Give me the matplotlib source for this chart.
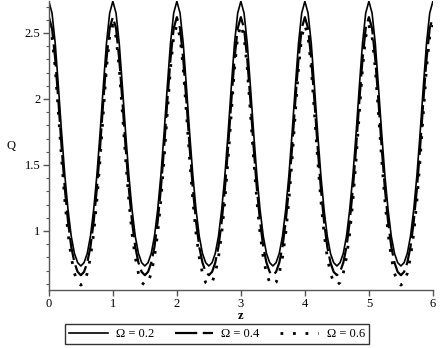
import matplotlib
matplotlib.use('Agg')
import matplotlib.pyplot as plt
from matplotlib.ticker import MultipleLocator
import numpy as np

plt.rcParams['font.family'] = ['Liberation Serif', 'DejaVu Serif']

# z grid (step 0.05 from 0 to 6)
z = np.linspace(0, 6, 121)

q_02 = [
    2.74, 2.65, 2.42, 2.09, 1.74, 1.42, 1.16, 0.96, 0.83, 0.76, 0.735, 0.76, 0.83, 0.96, 1.16, 1.42, 1.74, 2.09, 2.42, 2.65,
    2.74, 2.65, 2.42, 2.09, 1.74, 1.42, 1.16, 0.96, 0.83, 0.76, 0.735, 0.76, 0.83, 0.96, 1.16, 1.42, 1.74, 2.09, 2.42, 2.65,
    2.74, 2.65, 2.42, 2.09, 1.74, 1.42, 1.16, 0.96, 0.83, 0.76, 0.735, 0.76, 0.83, 0.96, 1.16, 1.42, 1.74, 2.09, 2.42, 2.65,
    2.74, 2.65, 2.42, 2.09, 1.74, 1.42, 1.16, 0.96, 0.83, 0.76, 0.735, 0.76, 0.83, 0.96, 1.16, 1.42, 1.74, 2.09, 2.42, 2.65,
    2.74, 2.65, 2.42, 2.09, 1.74, 1.42, 1.16, 0.96, 0.83, 0.76, 0.735, 0.76, 0.83, 0.96, 1.16, 1.42, 1.74, 2.09, 2.42, 2.65,
    2.74, 2.65, 2.42, 2.09, 1.74, 1.42, 1.16, 0.96, 0.83, 0.76, 0.735, 0.76, 0.83, 0.96, 1.16, 1.42, 1.74, 2.09, 2.42, 2.65,
    2.74,
]
q_04 = [
    2.62, 2.535, 2.30, 1.98, 1.63, 1.32, 1.07, 0.88, 0.76, 0.69, 0.665, 0.69, 0.76, 0.88, 1.07, 1.32, 1.63, 1.98, 2.30, 2.535,
    2.62, 2.535, 2.30, 1.98, 1.63, 1.32, 1.07, 0.88, 0.76, 0.69, 0.665, 0.69, 0.76, 0.88, 1.07, 1.32, 1.63, 1.98, 2.30, 2.535,
    2.62, 2.535, 2.30, 1.98, 1.63, 1.32, 1.07, 0.88, 0.76, 0.69, 0.665, 0.69, 0.76, 0.88, 1.07, 1.32, 1.63, 1.98, 2.30, 2.535,
    2.62, 2.535, 2.30, 1.98, 1.63, 1.32, 1.07, 0.88, 0.76, 0.69, 0.665, 0.69, 0.76, 0.88, 1.07, 1.32, 1.63, 1.98, 2.30, 2.535,
    2.62, 2.535, 2.30, 1.98, 1.63, 1.32, 1.07, 0.88, 0.76, 0.69, 0.665, 0.69, 0.76, 0.88, 1.07, 1.32, 1.63, 1.98, 2.30, 2.535,
    2.62, 2.535, 2.30, 1.98, 1.63, 1.32, 1.07, 0.88, 0.76, 0.69, 0.665, 0.69, 0.76, 0.88, 1.07, 1.32, 1.63, 1.98, 2.30, 2.535,
    2.62,
]
q_06 = [
    2.56, 2.47, 2.23, 1.89, 1.54, 1.23, 0.98, 0.80, 0.68, 0.61, 0.59, 0.61, 0.68, 0.80, 0.98, 1.23, 1.54, 1.89, 2.23, 2.47,
    2.56, 2.47, 2.23, 1.89, 1.54, 1.23, 0.98, 0.80, 0.68, 0.61, 0.59, 0.61, 0.68, 0.80, 0.98, 1.23, 1.54, 1.89, 2.23, 2.47,
    2.56, 2.47, 2.23, 1.89, 1.54, 1.23, 0.98, 0.80, 0.68, 0.61, 0.59, 0.61, 0.68, 0.80, 0.98, 1.23, 1.54, 1.89, 2.23, 2.47,
    2.56, 2.47, 2.23, 1.89, 1.54, 1.23, 0.98, 0.80, 0.68, 0.61, 0.59, 0.61, 0.68, 0.80, 0.98, 1.23, 1.54, 1.89, 2.23, 2.47,
    2.56, 2.47, 2.23, 1.89, 1.54, 1.23, 0.98, 0.80, 0.68, 0.61, 0.59, 0.61, 0.68, 0.80, 0.98, 1.23, 1.54, 1.89, 2.23, 2.47,
    2.56, 2.47, 2.23, 1.89, 1.54, 1.23, 0.98, 0.80, 0.68, 0.61, 0.59, 0.61, 0.68, 0.80, 0.98, 1.23, 1.54, 1.89, 2.23, 2.47,
    2.56,
]
labels = ['Ω = 0.2', 'Ω = 0.4', 'Ω = 0.6']
x_ticks = [0, 1, 2, 3, 4, 5, 6]
y_ticks = [1, 1.5, 2, 2.5]

fig = plt.figure(figsize=(4.44, 3.48), dpi=100)
ax = fig.add_axes([0.110, 0.1667, 0.865, 0.8296])

ax.plot(z, q_02, color='black', lw=1.2, linestyle='-', label=labels[0])
ax.plot(z, q_04, color='black', lw=1.6, linestyle=(0, (10, 2.5)), label=labels[1])
ax.plot(z, q_06, color='black', lw=2.0, linestyle=(0, (1, 3.5)), label=labels[2])

ax.set_xlim(0, 6)
ax.set_ylim(0.553, 2.74)
ax.set_xticks(x_ticks)
ax.set_xticklabels([str(t) for t in x_ticks])
ax.set_yticks(y_ticks)
ax.set_yticklabels(['1', '1.5', '2', '2.5'])
ax.yaxis.set_minor_locator(MultipleLocator(0.1))

for s in ['top', 'right']:
    ax.spines[s].set_visible(False)
for s in ['left', 'bottom']:
    ax.spines[s].set_color('#555555')
    ax.spines[s].set_linewidth(1.0)

ax.tick_params(axis='both', which='major', direction='out', length=4, width=1,
               color='#555555', labelsize=9, pad=2)
ax.tick_params(axis='y', which='minor', direction='out', length=2.5, width=0.8,
               color='#555555')

ax.set_xlabel('z', fontsize=9, fontweight='bold', labelpad=0)
ax.set_ylabel('Q', fontsize=9, rotation=0, labelpad=10, va='center')

leg = fig.legend(loc='center', bbox_to_anchor=(0.489, 0.040), ncol=3,
                 frameon=True, fancybox=False, fontsize=9, handlelength=3.1,
                 columnspacing=1.6, handletextpad=0.65, borderpad=0.35)
leg.get_frame().set_edgecolor('black')
leg.get_frame().set_linewidth(1.0)

fig.savefig('out.png', dpi=100)
